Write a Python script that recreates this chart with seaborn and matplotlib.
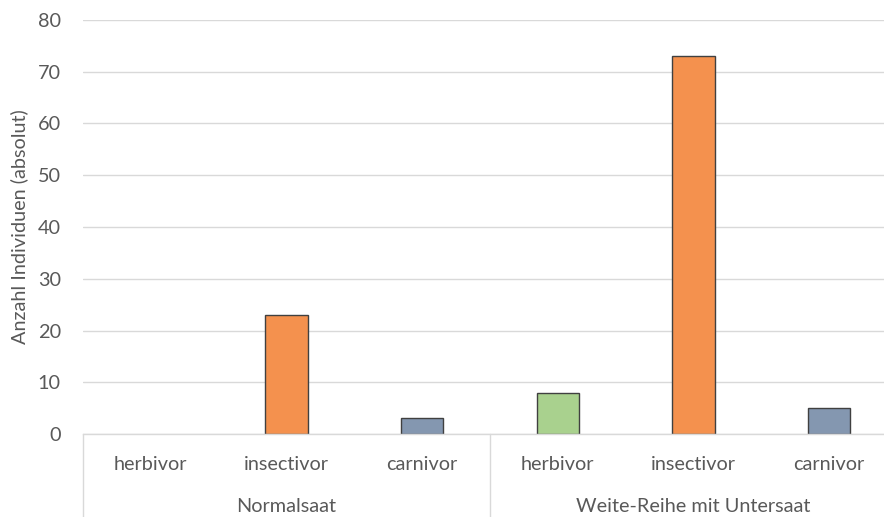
import matplotlib
matplotlib.use("Agg")
import matplotlib.pyplot as plt
import seaborn as sns
import pandas as pd

groups = ["Normalsaat", "Weite-Reihe mit Untersaat"]
types = ["herbivor", "insectivor", "carnivor"]
normalsaat = [0, 23, 3]
weite_reihe = [8, 73, 5]
colors = {"herbivor": "#a9d18e", "insectivor": "#f4914e", "carnivor": "#8497b0"}

rows = []
for g, vals in zip(groups, [normalsaat, weite_reihe]):
    for t, v in zip(types, vals):
        rows.append({"slot": f"{g}|{t}", "group": g, "type": t, "value": v})
df = pd.DataFrame(rows)

sns.set_theme(style="white")
plt.rcParams['font.family'] = ['Lato', 'DejaVu Sans']

fig = plt.figure(figsize=(8.84, 5.17), dpi=100)
ax = fig.add_axes([83 / 884, 83 / 517, 814 / 884, 414 / 517])

sns.barplot(data=df, x="slot", y="value", hue="type", palette=colors,
            dodge=False, width=0.31, edgecolor="#404040", linewidth=1.0,
            saturation=1, legend=False, ax=ax)
for p in ax.patches:
    if p.get_height() == 0:
        p.set_linewidth(0)

ax.set_ylim(0, 80)
ax.set_yticks(range(0, 81, 10))
ax.set_xlim(-0.5, 5.5)
ax.yaxis.grid(True, color="#d9d9d9", linewidth=1.0)
ax.set_axisbelow(True)
for s in ["top", "right", "left"]:
    ax.spines[s].set_visible(False)
ax.spines["bottom"].set_color("#d9d9d9")
ax.spines["bottom"].set_linewidth(1.0)

fs = 14.3
ax.set_xticks(range(len(df)))
ax.set_xticklabels(df["type"], color="#595959", fontsize=fs)
ax.tick_params(axis="x", length=0, pad=16)
ax.tick_params(axis="y", length=0, pad=16, labelcolor="#595959", labelsize=fs)
ax.set_xlabel("")
ax.set_ylabel("Anzahl Individuen (absolut)", color="#595959", fontsize=fs, labelpad=7)

# group separators below the axis
from matplotlib.lines import Line2D
for xpos in [-0.5, 2.5, 5.5]:
    ax.add_line(Line2D([xpos, xpos], [0, -0.21], transform=ax.get_xaxis_transform(),
                       color="#d9d9d9", linewidth=1.0, clip_on=False))
for i, g in enumerate(groups):
    ax.text(1 + 3 * i, -0.174, g, transform=ax.get_xaxis_transform(),
            ha="center", va="center", color="#595959", fontsize=fs)

fig.savefig("out.png", dpi=100)
